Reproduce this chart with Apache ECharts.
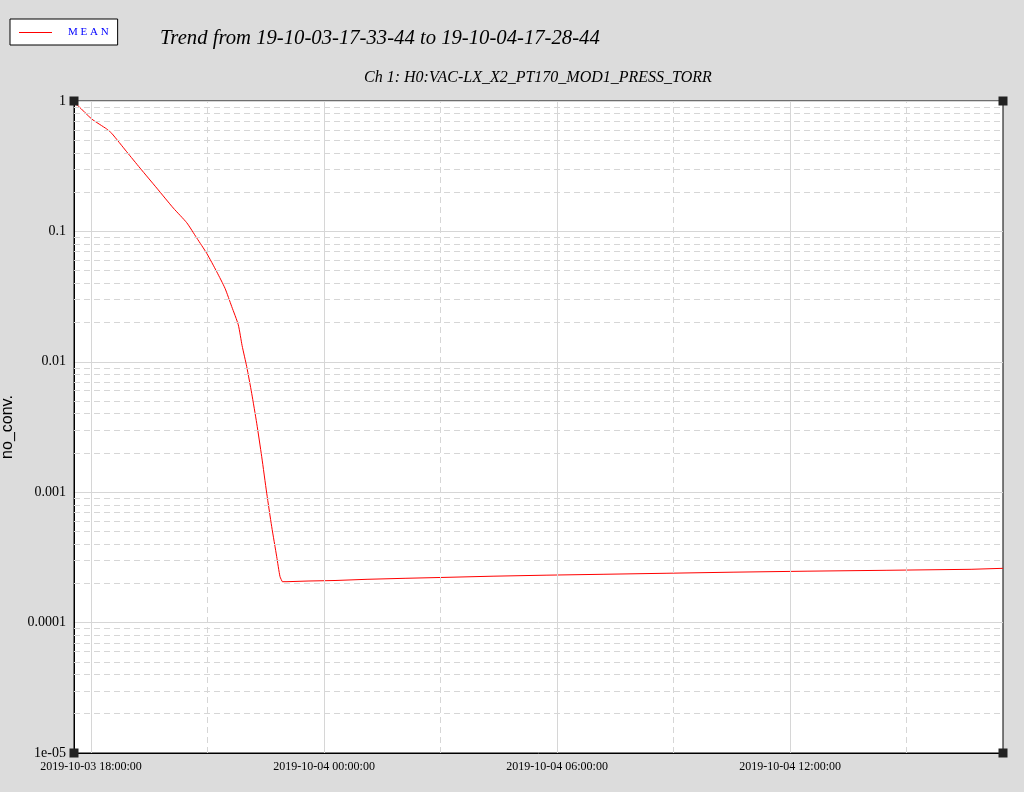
<!DOCTYPE html>
<html><head><meta charset="utf-8">
<script src="https://cdn.jsdelivr.net/npm/echarts@6/dist/echarts.min.js"></script>
<style>html,body{margin:0;padding:0;background:#dcdcdc}#c{width:1024px;height:792px}</style>
</head><body><div id="c"></div>
<script>
// x values: hours since 2019-10-03 00:00:00
const descentHours = [17.5622, 17.673, 18.018, 18.404, 18.533, 18.919, 19.262, 19.692, 20.119, 20.464, 20.722, 20.979, 21.236, 21.450, 21.623, 21.792, 21.890, 22.009, 22.137, 22.266, 22.395, 22.524, 22.652, 22.781, 22.866, 22.925];
const descentValues = [0.96, 0.915, 0.728, 0.610, 0.565, 0.408, 0.306, 0.215, 0.151, 0.1166, 0.0890, 0.0679, 0.0491, 0.0366, 0.0265, 0.0192, 0.0133, 0.00917, 0.00573, 0.00338, 0.00187, 0.000981, 0.000544, 0.000320, 0.000225, 0.000206];
const plateauHours = [22.925, 23.046, 23.587, 24.282, 25.106, 26.085, 27.191, 28.350, 29.715, 31.182, 32.804, 34.529, 36.434, 38.468, 40.657, 41.4789];
const plateauValues = [2.059e-4, 2.084e-4, 2.103e-4, 2.148e-4, 2.186e-4, 2.225e-4, 2.269e-4, 2.310e-4, 2.347e-4, 2.389e-4, 2.436e-4, 2.479e-4, 2.518e-4, 2.563e-4, 2.608e-4, 2.608e-4];

const xMin = 17.5622, xMax = 41.4789;
const xTickHours = [18, 24, 30, 36];
const xTickLabels = ['2019-10-03 18:00:00', '2019-10-04 00:00:00', '2019-10-04 06:00:00', '2019-10-04 12:00:00'];
const xMinorGridHours = [21, 27, 33, 39];
const yTickValues = [1, 0.1, 0.01, 0.001, 0.0001, 0.00001];
const yTickLabels = ['1', '0.1', '0.01', '0.001', '0.0001', '1e-05'];
const yMinorMultipliers = [2, 3, 4, 5, 6, 7, 8, 9];
const yMinorDecades = [0.00001, 0.0001, 0.001, 0.01, 0.1];

const titleText = 'Trend from 19-10-03-17-33-44 to 19-10-04-17-28-44';
const subtitleText = 'Ch 1: H0:VAC-LX_X2_PT170_MOD1_PRESS_TORR';
const yName = 'no_conv.';
const seriesName = 'MEAN';

const gridColor = '#d6d6d6';
const markLines = [];
xTickHours.forEach(h => markLines.push({xAxis: h, lineStyle: {type: 'solid', color: gridColor, width: 1}}));
xMinorGridHours.forEach(h => markLines.push({xAxis: h, lineStyle: {type: [6, 4], color: gridColor, width: 1}}));
yMinorDecades.forEach(d => yMinorMultipliers.forEach(m => markLines.push({yAxis: +(m * d).toPrecision(3), lineStyle: {type: [6, 4], color: gridColor, width: 1}})));

const corners = [[xMin, 1], [xMax, 1], [xMin, 0.00001], [xMax, 0.00001]].map(c => ({coord: c}));

const chart = echarts.init(document.getElementById('c'), null, {renderer: 'canvas'});
chart.setOption({
  backgroundColor: '#dcdcdc',
  animation: false,
  title: [
    {text: titleText, left: 160, top: 28, padding: 0, textStyle: {fontFamily: 'Liberation Serif', fontStyle: 'italic', fontWeight: 'normal', fontSize: 20.7, color: '#000'}},
    {text: subtitleText, left: 364, top: 70, padding: 0, textStyle: {fontFamily: 'Liberation Serif', fontStyle: 'italic', fontWeight: 'normal', fontSize: 16, color: '#000'}}
  ],
  legend: {
    data: [seriesName],
    left: 10, top: 19,
    backgroundColor: '#fff', borderColor: '#000', borderWidth: 1,
    padding: [8, 9, 7, 9],
    icon: 'rect',
    itemWidth: 33, itemHeight: 1,
    formatter: n => n.split('').join(' '),
    textStyle: {fontFamily: 'Liberation Serif', fontSize: 11, color: '#0000ff', padding: [0, 0, 0, 11]}
  },
  grid: {left: 74, right: 21, top: 101, bottom: 39, containLabel: false, outerBoundsMode: 'none', show: true, backgroundColor: '#fff', borderColor: '#000', borderWidth: 1},
  xAxis: {
    type: 'value', min: xMin, max: xMax,
    axisLine: {show: true, lineStyle: {color: '#000'}},
    axisTick: {show: false},
    splitLine: {show: false},
    axisLabel: {
      customValues: xTickHours,
      formatter: v => { const i = xTickHours.findIndex(h => Math.abs(h - v) < 1e-6); return i >= 0 ? xTickLabels[i] : ''; },
      fontFamily: 'Liberation Serif', fontSize: 12, color: '#000', margin: 8
    }
  },
  yAxis: {
    type: 'log', logBase: 10, min: 0.00001, max: 1,
    name: yName, nameLocation: 'middle', nameRotate: 90, nameGap: 58,
    nameTextStyle: {fontFamily: 'Liberation Sans', fontSize: 16, color: '#000'},
    axisLine: {show: true, lineStyle: {color: '#000'}},
    axisTick: {show: false},
    splitLine: {show: true, lineStyle: {color: gridColor, type: 'solid', width: 1}},
    axisLabel: {
      formatter: v => { const i = yTickValues.findIndex(t => Math.abs(Math.log10(t) - Math.log10(v)) < 1e-6); return i >= 0 ? yTickLabels[i] : ''; },
      fontFamily: 'Liberation Serif', fontSize: 14, color: '#000', margin: 8
    }
  },
  series: [
    {
      name: 'grid', type: 'line', data: [], z: 1, silent: true,
      markLine: {silent: true, precision: 10, symbol: ['none', 'none'], label: {show: false}, animation: false, data: markLines},
      markPoint: {silent: true, symbol: 'rect', symbolSize: 9, itemStyle: {color: '#222'}, label: {show: false}, animation: false, data: corners}
    },
    {
      name: seriesName, type: 'line', z: 3, symbol: 'none', showSymbol: false,
      smooth: 0.2,
      lineStyle: {color: '#ff0000', width: 1}, itemStyle: {color: '#ff0000'},
      data: descentHours.map((h, i) => [h, descentValues[i]])
    },
    {
      name: seriesName, type: 'line', z: 3, symbol: 'none', showSymbol: false, step: 'end',
      lineStyle: {color: '#ff0000', width: 1}, itemStyle: {color: '#ff0000'},
      data: plateauHours.map((h, i) => [h, plateauValues[i]])
    }
  ]
});
</script></body></html>
